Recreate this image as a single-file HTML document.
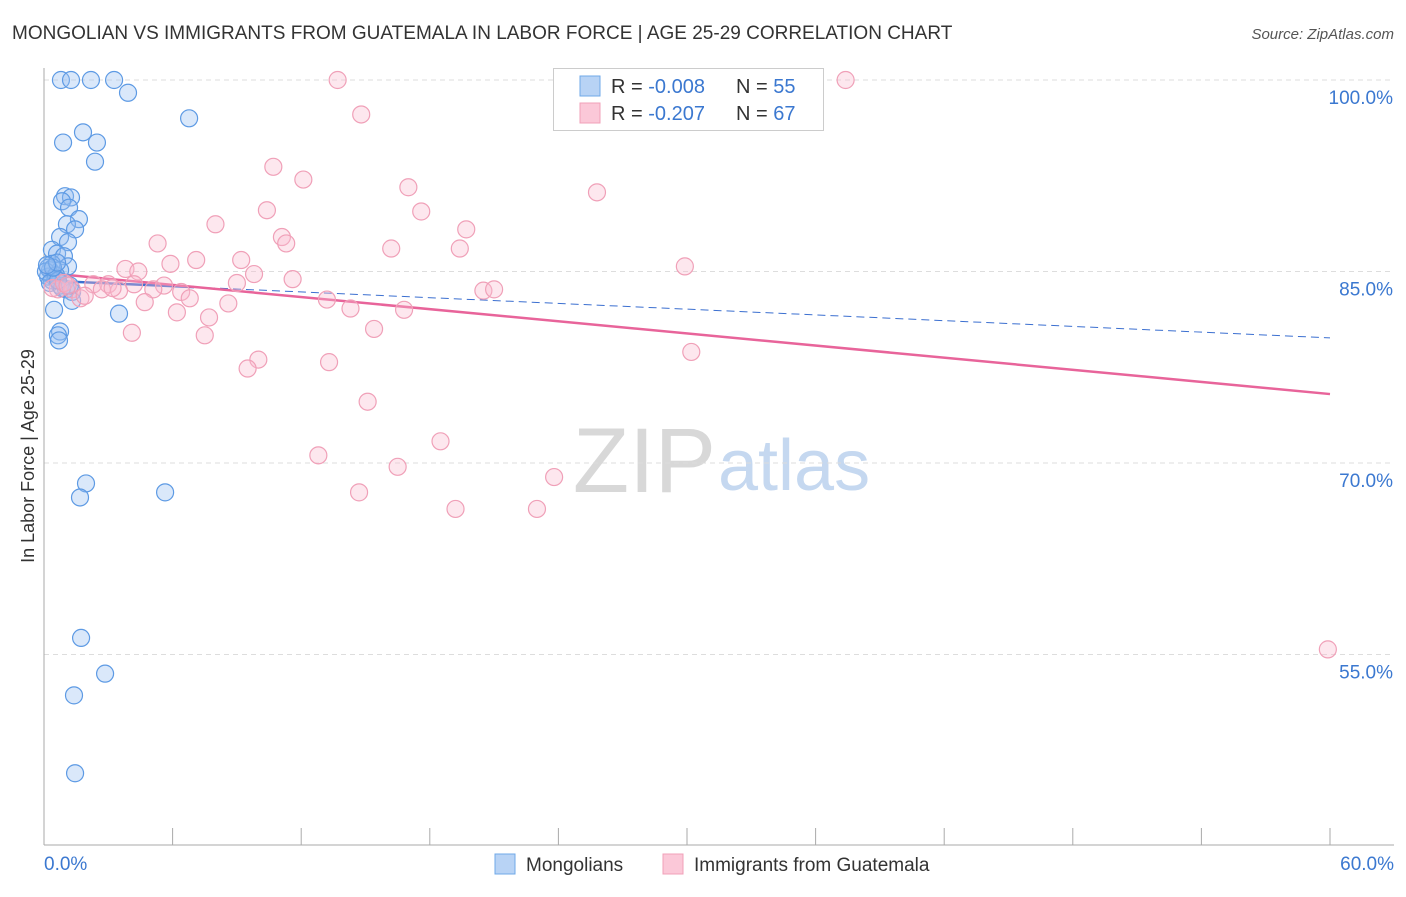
<!DOCTYPE html>
<html><head><meta charset="utf-8"><style>
body{margin:0;background:#fff;font-family:"Liberation Sans",sans-serif}
svg text{font-family:"Liberation Sans",sans-serif}
</style></head><body>
<svg width="1406" height="892" xmlns="http://www.w3.org/2000/svg">
<text x="12" y="39" font-size="19" fill="#333">MONGOLIAN VS IMMIGRANTS FROM GUATEMALA IN LABOR FORCE | AGE 25-29 CORRELATION CHART</text>
<text x="1394" y="39" font-size="15" fill="#555" font-style="italic" text-anchor="end">Source: ZipAtlas.com</text>
<text x="716" y="492" font-size="92" fill="#d8d8d8" text-anchor="end" font-family="Liberation Serif">ZIP</text>
<text x="718" y="490" font-size="72" fill="#c5d8f0">atlas</text>
<g id="grid"></g><g id="axes"></g><g id="trend"></g><g id="pts"></g>
<text transform="translate(34,456) rotate(-90)" font-size="18" fill="#333" text-anchor="middle">In Labor Force | Age 25-29</text>
<text x="44" y="870" font-size="19" fill="#3b78d0">0.0%</text>
<text x="1394" y="870" font-size="19" fill="#3b78d0" text-anchor="end">60.0%</text>
<g>
<rect x="553.5" y="68.5" width="270" height="62" fill="#fff" stroke="#ccc"/>
<rect x="580" y="76" width="20" height="20" fill="#b8d3f5" stroke="#6fa8e8"/>
<rect x="580" y="103" width="20" height="20" fill="#fbc8d8" stroke="#f0a0b8"/>
<text x="611" y="93" font-size="20" fill="#333">R = <tspan fill="#3b78d0">-0.008</tspan><tspan x="736">N = </tspan><tspan fill="#3b78d0">55</tspan></text>
<text x="611" y="120" font-size="20" fill="#333">R = <tspan fill="#3b78d0"> -0.207</tspan><tspan x="736">N = </tspan><tspan fill="#3b78d0">67</tspan></text>
</g>
<g>
<rect x="495" y="854" width="20" height="20" fill="#b8d3f5" stroke="#6fa8e8"/>
<text x="526" y="871" font-size="19" fill="#333">Mongolians</text>
<rect x="663" y="854" width="20" height="20" fill="#fbc8d8" stroke="#f0a0b8"/>
<text x="694" y="871" font-size="19" fill="#333">Immigrants from Guatemala</text>
</g>
</svg>
<script>
const blueX=[0.79,1.26,2.19,3.27,3.92,6.77,1.82,0.89,2.47,2.38,0.98,1.26,0.84,1.17,1.63,1.07,1.45,0.75,1.12,0.37,0.61,0.93,0.37,1.12,0.28,0.75,0.19,0.51,0.37,0.75,1.03,1.31,1.31,0.47,0.75,0.65,0.70,3.50,1.96,1.68,5.65,1.73,2.85,1.40,1.45,0.19,0.09,0.56,0.28,0.84,1.21,0.65,0.42,0.61,0.14];
const blueY=[100,100,100,100,99.0,97.0,95.9,95.1,95.1,93.6,90.9,90.8,90.5,90.0,89.1,88.7,88.3,87.7,87.3,86.7,86.4,86.2,85.6,85.4,85.1,85.1,84.6,84.5,84.3,83.9,83.6,83.4,82.7,82.0,80.3,80.0,79.6,81.7,68.4,67.3,67.7,56.3,53.5,51.8,45.7,85.3,85.0,84.7,84.1,83.7,83.9,84.3,85.3,85.7,85.5];
const pinkX=[13.7,37.4,14.8,10.7,12.1,17.0,25.8,10.4,17.6,8.0,19.7,11.1,11.3,5.3,16.2,19.4,9.2,7.1,5.9,3.8,4.4,9.8,29.9,11.6,9.0,2.3,3.0,4.2,5.6,2.7,3.5,5.1,6.4,20.5,21.0,0.65,1.3,1.7,0.4,4.7,6.8,8.6,13.2,14.3,16.8,6.2,7.7,15.4,4.1,7.5,30.2,10.0,9.5,13.3,15.1,18.5,12.8,16.5,23.8,14.7,19.2,23.0,59.9,0.93,1.9,3.2,1.1];
const pinkY=[100,100,97.3,93.2,92.2,91.6,91.2,89.8,89.7,88.7,88.3,87.7,87.2,87.2,86.8,86.8,85.9,85.9,85.6,85.2,85.0,84.8,85.4,84.4,84.1,84.0,84.0,84.0,83.9,83.6,83.5,83.6,83.4,83.5,83.6,83.6,83.6,82.9,83.7,82.6,82.9,82.5,82.8,82.1,82.0,81.8,81.4,80.5,80.2,80.0,78.7,78.1,77.4,77.9,74.8,71.7,70.6,69.7,68.9,67.7,66.4,66.4,55.4,84.1,83.1,83.7,83.9];
const yTicks=[100,85,70,55];
const xTicks=[0,6,12,18,24,30,36,42,48,54,60];
const blueTrend=[84.3,79.8];
const pinkTrend=[84.9,75.4];
const NS="http://www.w3.org/2000/svg";
const sx=v=>44+v/60*1286, sy=v=>80+(100-v)*191.5/15;
function mk(t,a,p){const e=document.createElementNS(NS,t);for(const k in a)e.setAttribute(k,a[k]);document.getElementById(p).appendChild(e);return e;}
yTicks.forEach(v=>{
 const l=mk('line',{x1:44,x2:1394,y1:sy(v),y2:sy(v),stroke:'#ddd','stroke-dasharray':'5,4'},'grid');
 
 
 const t=mk('text',{x:1393,y:sy(v)+24,'font-size':19,fill:'#3b78d0','text-anchor':'end'},'grid');
 t.textContent=v.toFixed(1)+'%';
 
 
});
const ax=mk('line',{x1:44,x2:44,y1:68,y2:845,stroke:'#aaa'},'axes');


const bx=mk('line',{x1:44,x2:1394,y1:845,y2:845,stroke:'#aaa'},'axes');


xTicks.forEach(v=>{
 const t=mk('line',{x1:sx(v),x2:sx(v),y1:828,y2:845,stroke:'#aaa'},'axes');
 
 
});
function trend(c,arr,solidTo,dashed,name){
 const f=x=>arr[0]+(arr[1]-arr[0])*x/60;
 const a=mk('line',{x1:sx(0),y1:sy(f(0)),x2:sx(solidTo),y2:sy(f(solidTo)),stroke:c,'stroke-width':2.5},'trend');
 
 
 if(dashed){const b=mk('line',{x1:sx(solidTo),y1:sy(f(solidTo)),x2:sx(60),y2:sy(f(60)),stroke:c,'stroke-width':1,'stroke-dasharray':'8,5'},'trend');
 
 }
}
blueX.forEach((x,i)=>{const c=mk('circle',{cx:sx(x),cy:sy(blueY[i]),r:8.5,fill:'rgba(150,190,240,0.35)',stroke:'#5d9ae4','stroke-width':1.2},'pts');
 
 });
pinkX.forEach((x,i)=>{const c=mk('circle',{cx:sx(x),cy:sy(pinkY[i]),r:8.5,fill:'rgba(248,185,205,0.35)',stroke:'#f0a0b8','stroke-width':1.2},'pts');
 
 });
trend('#3b6fd0',blueTrend,7,true,'mongolian-trendline');
trend('#e8649a',pinkTrend,60,false,'guatemala-trendline');
</script>
</body></html>
